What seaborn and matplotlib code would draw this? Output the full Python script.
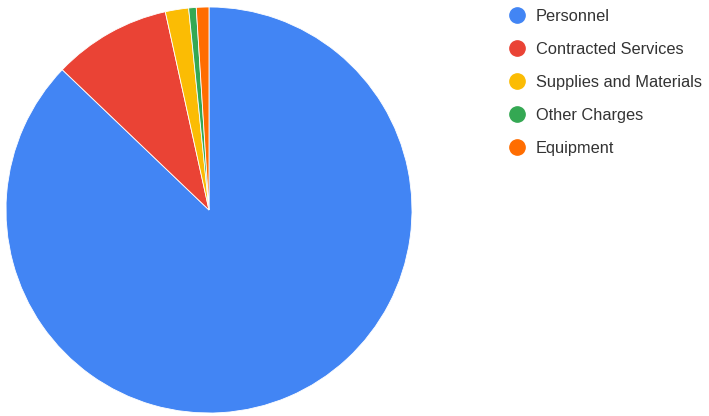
import matplotlib
matplotlib.use("Agg")
import matplotlib.pyplot as plt
from matplotlib.lines import Line2D
import seaborn as sns

categories = ["Personnel", "Contracted Services", "Supplies and Materials", "Other Charges", "Equipment"]
values = [87.1, 9.4, 1.85, 0.6, 1.0]
colors = ["#4285F4", "#EA4335", "#FBBC04", "#34A853", "#FF6D01"]

sns.set_style("white")
plt.rcParams['font.family'] = ['Arial', 'Liberation Sans', 'DejaVu Sans']

fig = plt.figure(figsize=(7.09, 4.16), dpi=100)
ax = fig.add_axes([6/709, 3/416, 406/709, 406/416])
palette = sns.color_palette(colors)
ax.pie(values, colors=palette, startangle=90, counterclock=False,
       wedgeprops=dict(linewidth=0.6, edgecolor="white"), radius=1.0)
ax.set_xlim(-1, 1)
ax.set_ylim(-1, 1)
ax.set_aspect("equal")
ax.axis("off")

handles = [Line2D([0], [0], marker="o", linestyle="none", markersize=11,
                  markerfacecolor=c, markeredgecolor=c) for c in palette]
leg = fig.legend(handles, categories, loc="upper left",
                 bbox_to_anchor=(509/709, 1 - 9/416), frameon=False,
                 fontsize=11.8, labelspacing=1.1, handletextpad=0.62,
                 handlelength=1.0, borderpad=0, borderaxespad=0)
for t in leg.get_texts():
    t.set_color("#333333")

fig.savefig("out.png", dpi=100)
